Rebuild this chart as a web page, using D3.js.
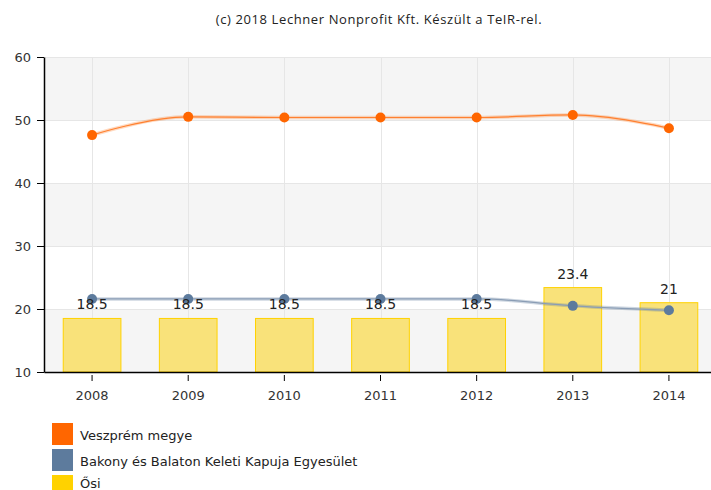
<!DOCTYPE html>
<html>
<head>
<meta charset="utf-8">
<script src="https://cdn.jsdelivr.net/npm/d3@7/dist/d3.min.js"></script>
<style>
  html, body { margin: 0; padding: 0; background: #fff; }
  svg { display: block; font-family: "DejaVu Sans", Verdana, sans-serif; }
</style>
</head>
<body>
<svg id="chart" width="711" height="490"></svg>
<script>
// Years on the x axis
const years = ["2008", "2009", "2010", "2011", "2012", "2013", "2014"];
// Series values
const veszprem = [47.6, 50.5, 50.4, 50.4, 50.4, 50.8, 48.7];
const bakony = [21.6, 21.6, 21.6, 21.6, 21.6, 20.5, 19.8];
const osi = [18.5, 18.5, 18.5, 18.5, 18.5, 23.4, 21];
// Y axis ticks
const yTicks = [10, 20, 30, 40, 50, 60];

const seriesNames = ["Veszprém megye", "Bakony és Balaton Keleti Kapuja Egyesület", "Ősi"];
const colors = ["#ff6600", "#5d7b9d", "#ffd200"];

const svg = d3.select("#chart");
const W = 711;
const mLeft = 44, mTop = 57, mBottom = 372, mRight = 717;

const x = d3.scaleBand().domain(years).range([mLeft, mRight]).paddingInner(0).paddingOuter(0);
const y = d3.scaleLinear().domain([10, 60]).range([mBottom, mTop]);
const cx = d => x(d) + x.bandwidth() / 2;

// Smooth spline through points: control points at 1/2.5 of the way to
// neighbours, aligned through each point and clamped at local extremes.
function splinePath(pts) {
  const p = d3.path();
  const s = 1.5, den = s + 1;
  let prevRight = null;
  pts.forEach((pt, i) => {
    const [px, py] = pt;
    if (i === 0) { p.moveTo(px, py); prevRight = [px, py]; return; }
    let lcx = px, lcy = py, rcx = px, rcy = py;
    if (i < pts.length - 1) {
      const [lx, ly] = pts[i - 1], [nx, ny] = pts[i + 1];
      lcx = (s * px + lx) / den; lcy = (s * py + ly) / den;
      rcx = (s * px + nx) / den; rcy = (s * py + ny) / den;
      if (rcx !== lcx) {
        const corr = ((rcy - lcy) * (rcx - px)) / (rcx - lcx) + py - rcy;
        lcy += corr; rcy += corr;
        if (lcy > ly && lcy > py) { lcy = Math.max(ly, py); rcy = 2 * py - lcy; }
        else if (lcy < ly && lcy < py) { lcy = Math.min(ly, py); rcy = 2 * py - lcy; }
        if (rcy > ny && rcy > py) { rcy = Math.max(ny, py); lcy = 2 * py - rcy; }
        else if (rcy < ny && rcy < py) { rcy = Math.min(ny, py); lcy = 2 * py - rcy; }
      }
    }
    p.bezierCurveTo(prevRight[0], prevRight[1], lcx, lcy, px, py);
    prevRight = [rcx, rcy];
  });
  return p.toString();
}
const toPts = vals => vals.map((v, i) => [cx(years[i]), y(v)]);

// Title
svg.append("text")
  .attr("x", 379).attr("y", 24)
  .attr("text-anchor", "middle")
  .attr("font-family", "Open Sans, sans-serif")
  .attr("font-size", 13).attr("letter-spacing", 0.6).attr("fill", "#222")
  .text("(c) 2018 Lechner Nonprofit Kft. Készült a TeIR-rel.");

const plot = svg.append("g");

// Alternating bands
for (let i = 0; i < yTicks.length - 1; i++) {
  if (i % 2 === 0) {
    plot.append("rect")
      .attr("x", mLeft).attr("width", W - mLeft)
      .attr("y", y(yTicks[i + 1])).attr("height", y(yTicks[i]) - y(yTicks[i + 1]))
      .attr("fill", "#f5f5f5");
  }
}

// Grid lines
plot.selectAll("line.hgrid").data(yTicks).enter().append("line")
  .attr("x1", mLeft).attr("x2", W)
  .attr("y1", d => y(d) + 0.5).attr("y2", d => y(d) + 0.5)
  .attr("stroke", "#e6e6e6").attr("stroke-width", 1);
plot.selectAll("line.vgrid").data(years).enter().append("line")
  .attr("x1", d => Math.round(cx(d)) + 0.5).attr("x2", d => Math.round(cx(d)) + 0.5)
  .attr("y1", mTop).attr("y2", mBottom)
  .attr("stroke", "#e6e6e6").attr("stroke-width", 1);

// Bars
const bw = x.bandwidth() * 0.6;
plot.selectAll("rect.bar").data(osi).enter().append("rect")
  .attr("x", (d, i) => cx(years[i]) - bw / 2)
  .attr("y", d => y(d))
  .attr("width", bw)
  .attr("height", d => y(10) - y(d))
  .attr("fill", "#f9e27a")
  .attr("stroke", "#ffd200").attr("stroke-width", 1);

// Lines
plot.append("path").attr("d", splinePath(toPts(bakony)))
  .attr("fill", "none").attr("stroke", "#5d7b9d").attr("stroke-opacity", 0.3).attr("stroke-width", 3.5);
plot.append("path").attr("d", splinePath(toPts(bakony)))
  .attr("fill", "none").attr("stroke", "#8a9db5").attr("stroke-width", 1.2);

plot.append("path").attr("d", splinePath(toPts(veszprem)))
  .attr("fill", "none").attr("stroke", "#ff6600").attr("stroke-opacity", 0.25).attr("stroke-width", 3.5);
plot.append("path").attr("d", splinePath(toPts(veszprem)))
  .attr("fill", "none").attr("stroke", "#ff8030").attr("stroke-width", 1.2);

// Markers
plot.selectAll("circle.b").data(bakony).enter().append("circle")
  .attr("cx", (d, i) => cx(years[i])).attr("cy", d => y(d)).attr("r", 5)
  .attr("fill", colors[1]);
plot.selectAll("circle.v").data(veszprem).enter().append("circle")
  .attr("cx", (d, i) => cx(years[i])).attr("cy", d => y(d)).attr("r", 5)
  .attr("fill", colors[0]);

// Bar value labels
plot.selectAll("text.lbl").data(osi).enter().append("text")
  .attr("x", (d, i) => cx(years[i]))
  .attr("y", d => y(d) - 9)
  .attr("text-anchor", "middle")
  .attr("font-size", 14).attr("fill", "#222")
  .text(d => d);

// Y axis
const yAxis = svg.append("g").attr("transform", `translate(${mLeft},0)`)
  .call(d3.axisLeft(y).tickValues(yTicks).tickSize(7).tickPadding(6).tickSizeOuter(0));
yAxis.select(".domain").attr("stroke", "#000").attr("stroke-width", 1.5);
yAxis.selectAll(".tick line").attr("stroke", "#000");
yAxis.selectAll(".tick text").attr("font-size", 13).attr("fill", "#333")
  .attr("font-family", "DejaVu Sans, Verdana, sans-serif");

// X axis
const xAxis = svg.append("g").attr("transform", `translate(0,${mBottom})`)
  .call(d3.axisBottom(x).tickSize(7).tickPadding(12).tickSizeOuter(0));
xAxis.select(".domain").attr("stroke", "#000").attr("stroke-width", 1.5);
xAxis.selectAll(".tick line").attr("stroke", "#000").attr("y1", 3).attr("y2", 9);
xAxis.selectAll(".tick text").attr("font-size", 13).attr("fill", "#333")
  .attr("font-family", "DejaVu Sans, Verdana, sans-serif");

// Legend
const legend = svg.append("g");
seriesNames.forEach((name, i) => {
  const yy = 423 + i * 26;
  legend.append("rect").attr("x", 52).attr("y", yy).attr("width", 21).attr("height", 22)
    .attr("fill", colors[i]);
  legend.append("text").attr("x", 80).attr("y", Math.min(yy + 17, 488))
    .attr("font-size", 13).attr("fill", "#222")
    .text(name);
});
</script>
</body>
</html>
